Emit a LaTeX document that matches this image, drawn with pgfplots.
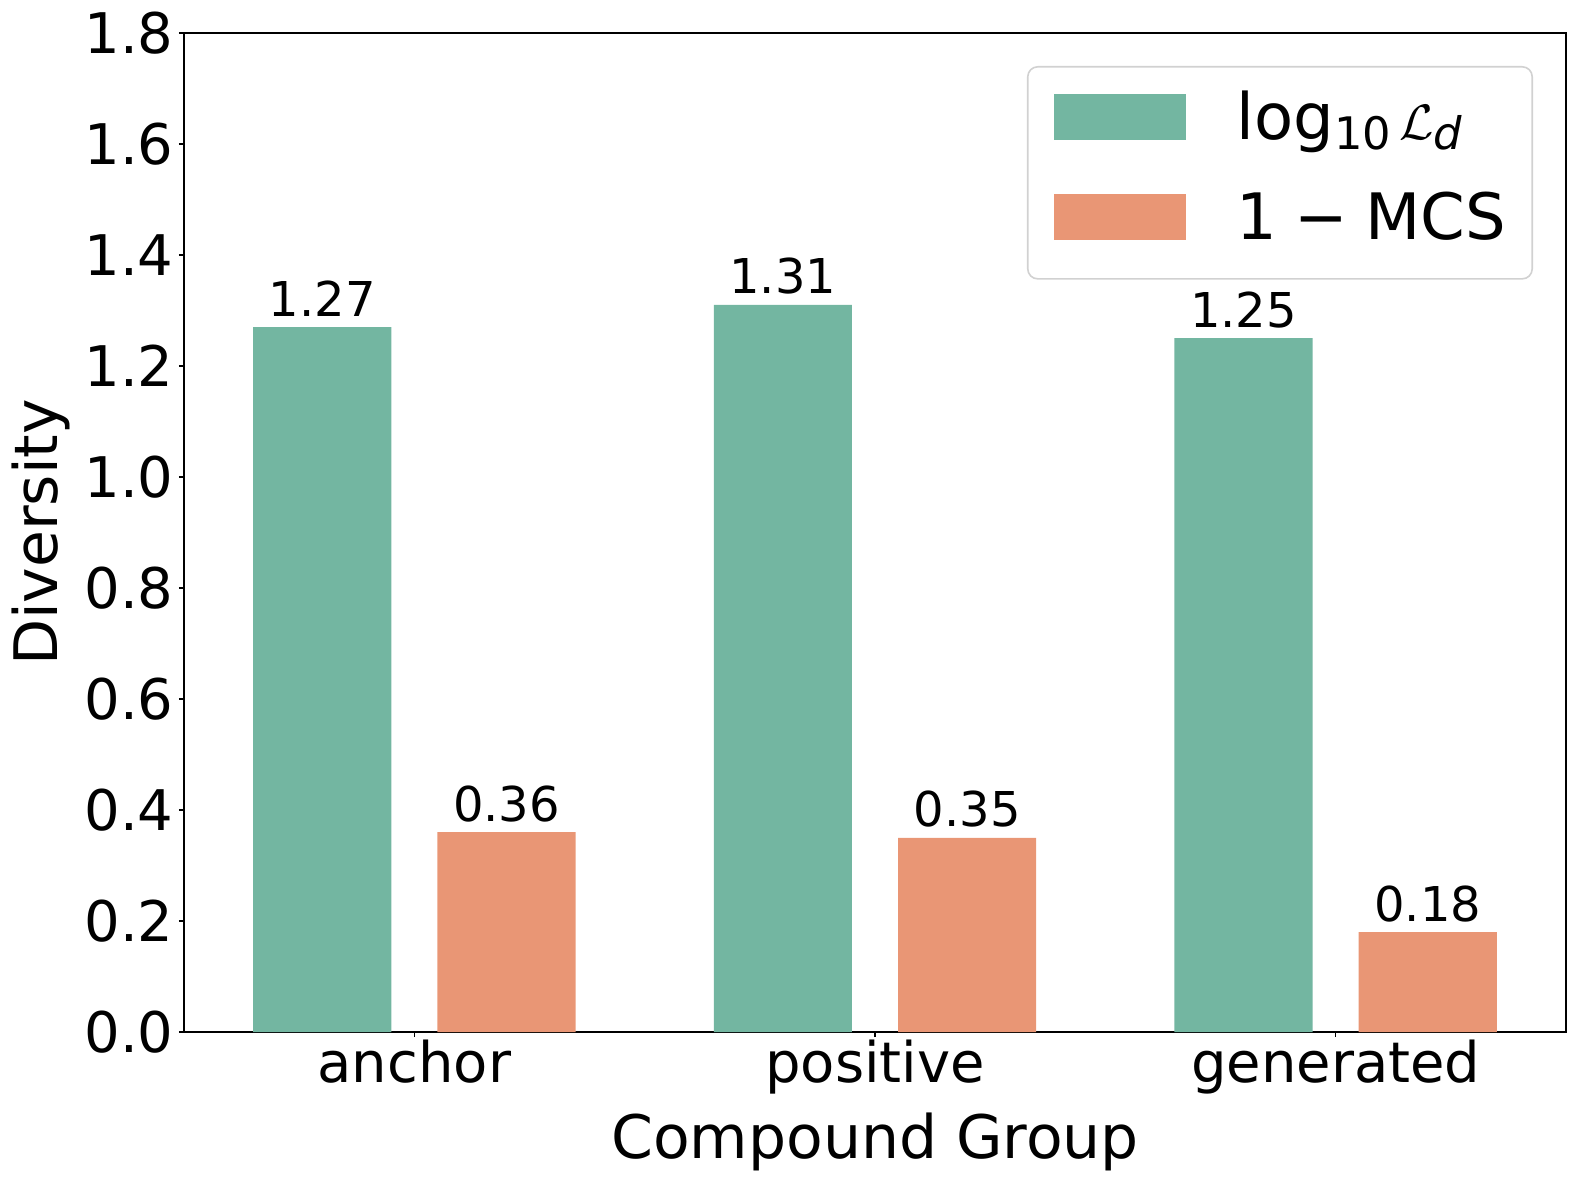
\documentclass[border=0pt]{standalone}
\usepackage{pgfplots}
\pgfplotsset{compat=1.18}
\usepackage{fontspec}
\setmainfont{DejaVu Sans}
\definecolor{setgreen}{HTML}{73B6A1}
\definecolor{setorange}{HTML}{E99675}
\pgfplotsset{
    patch legend/.style={legend image code/.code={%
        \fill[##1, sharp corners] (0pt,-11.5pt) rectangle (66pt,11.5pt);
        \path[draw=none, fill=none] (0pt,-19pt) rectangle (91.5pt,0.1pt);}},
}

\begin{document}
\begin{tikzpicture}
\begin{axis}[
    name=ax,
    scale only axis,
    width=691pt,
    height=499.5pt,
    ybar,
    bar width=0.3,
    xmin=-0.5, xmax=2.5,
    ymin=0, ymax=1.8,
    xtick={0,1,2},
    xticklabels={anchor,positive,generated},
    ytick={0,0.2,0.4,0.6,0.8,1.0,1.2,1.4,1.6,1.8},
    tick pos=left,
    tick align=outside,
    major tick length=2.5pt,
    tick style={black, line width=0.7pt},
    axis line style={line width=0.7pt},
    ticklabel style={font=\fontsize{28}{34}\selectfont, inner sep=0pt},
    yticklabel style={anchor=east, xshift=-2.5pt,
        /pgf/number format/fixed, /pgf/number format/fixed zerofill,
        /pgf/number format/precision=1, /pgf/number format/assume math mode=true},
    xticklabel style={anchor=base, yshift=-22.5pt},
    xlabel={Compound Group},
    ylabel={Diversity},
    label style={font=\fontsize{30}{36}\selectfont, inner sep=0pt},
    xlabel style={at={(axis description cs:0.5,-0.1271)}, anchor=base},
    ylabel style={at={(axis description cs:-0.0912,0.5)}, anchor=base},
    nodes near coords={\pgfmathprintnumber[fixed,fixed zerofill,precision=2,assume math mode=true]{\pgfplotspointmeta}},
    every node near coord/.append style={font=\fontsize{24}{28}\selectfont, anchor=south, inner sep=0pt, yshift=5pt, black},
    legend style={at={(rel axis cs:1,1)}, xshift=-16.5pt, yshift=-16.5pt, anchor=north east,
        draw=black!18, line width=0.8pt, rounded corners=5pt, fill=white,
        font=\fontsize{32}{38}\selectfont, inner xsep=13pt, inner ysep=12pt, row sep=18.5pt,
        nodes={inner sep=0pt}},
    legend cell align=left,
]

% log10 of the diversity loss
\addplot[fill=setgreen, draw=none, bar shift=-0.2, patch legend]
    coordinates {(0,1.27) (1,1.31) (2,1.25)};
\addlegendentry{log\raisebox{-5pt}{\fontsize{22.4}{26}\selectfont 10}\hspace{0.12em}$\mathcal{L}$\raisebox{-5pt}{\fontsize{22.4}{26}\selectfont\itshape d}}

% one minus maximum common substructure
\addplot[fill=setorange, draw=none, bar shift=0.2, patch legend]
    coordinates {(0,0.36) (1,0.35) (2,0.18)};
\addlegendentry{1\hspace{0.27em}−\hspace{0.27em}MCS}

\end{axis}
\pgfresetboundingbox
\path ([shift={(-92pt,-75.5pt)}]ax.south west) rectangle ([shift={(6pt,16.5pt)}]ax.north east);
\end{tikzpicture}
\end{document}
